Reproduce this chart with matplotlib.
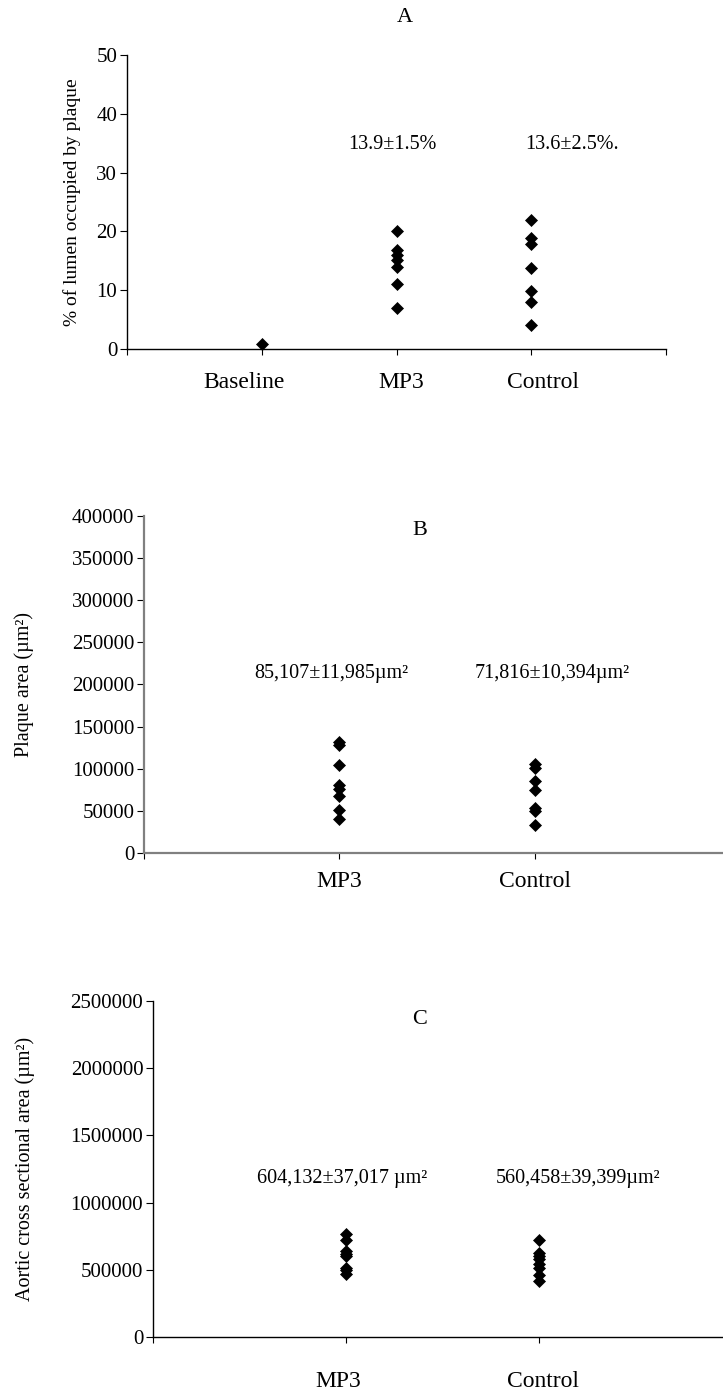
import matplotlib
matplotlib.use("Agg")
import matplotlib.pyplot as plt
from matplotlib.ticker import StrMethodFormatter
from matplotlib.transforms import ScaledTranslation
import numpy as np

plt.rcParams['font.family'] = ['Liberation Serif', 'DejaVu Serif']

# panel A: % of lumen occupied by plaque
cats_a = ['Baseline', 'MP3', 'Control']
baseline_pct = [0.9]
mp3_pct = [20.0, 16.8, 16.0, 15.2, 13.9, 11.0, 6.9]
control_pct = [22.0, 18.9, 17.9, 13.8, 9.9, 8.0, 4.0]
notes_a = ['13.9\u00b11.5%', '13.6\u00b12.5%.']

# panel B: plaque area
cats_b = ['MP3', 'Control']
mp3_plaque = [132000, 128000, 104000, 81000, 76000, 68000, 51000, 40000]
control_plaque = [106000, 101000, 86000, 75000, 54000, 50000, 33000]
notes_b = ['85,107\u00b111,985\u00b5m\u00b2', '71,816\u00b110,394\u00b5m\u00b2']

# panel C: aortic cross sectional area
cats_c = ['MP3', 'Control']
mp3_aortic = [770000, 720000, 640000, 620000, 600000, 510000, 500000, 470000]
control_aortic = [720000, 625000, 600000, 580000, 545000, 510000, 460000, 420000]
notes_c = ['604,132\u00b137,017 \u00b5m\u00b2', '560,458\u00b139,399\u00b5m\u00b2']

W, H = 723, 1396
fig = plt.figure(figsize=(W / 100, H / 100), dpi=100)


def make_axes(left, right, bottom, top):
    return fig.add_axes([left / W, 1 - bottom / H, (right - left) / W, (bottom - top) / H])


def style(ax, color='black', lw=1.0, xpad=10):
    ax.spines['top'].set_visible(False)
    ax.spines['right'].set_visible(False)
    for s in ('left', 'bottom'):
        ax.spines[s].set_color(color)
        ax.spines[s].set_linewidth(lw)
    ax.tick_params(axis='y', direction='out', length=5, width=0.8, labelsize=15, pad=2)
    ax.tick_params(axis='x', direction='out', length=4.3, width=0.8, labelsize=17, pad=xpad)
    ax.yaxis.set_major_formatter(StrMethodFormatter('{x:.0f}'))


def shift_labels(ax, shifts):
    # nudge the category labels sideways (pixels at 100 dpi)
    labels = [t for t in ax.get_xticklabels() if t.get_text()]
    for t, dx in zip(labels, shifts):
        t.set_transform(t.get_transform() + ScaledTranslation(dx / 100, 0, fig.dpi_scale_trans))


def dots(ax, x, vals):
    ax.plot(np.full(len(vals), x), vals, 'D', color='black', markersize=6,
            markeredgewidth=0.5, clip_on=False, zorder=3)


# ---- A ----
ax1 = make_axes(127, 666, 349, 55)
style(ax1, xpad=12)
ax1.set_xlim(0, 4)
ax1.set_ylim(0, 50)
ax1.set_yticks(range(0, 51, 10))
ax1.set_xticks(range(5), [''] + cats_a + [''])
shift_labels(ax1, [-18, 5, 12])
for i, vals in enumerate([baseline_pct, mp3_pct, control_pct]):
    dots(ax1, i + 1, vals)
ax1.text(1.97, 34.7, notes_a[0], ha='center', va='center', fontsize=14.5)
ax1.text(3.30, 34.7, notes_a[1], ha='center', va='center', fontsize=14.5)
ax1.text(2.06, 56.3, 'A', ha='center', va='center', fontsize=16, clip_on=False)
ax1.set_ylabel('% of lumen occupied by plaque', fontsize=14)
ax1.yaxis.set_label_coords(-0.085, 0.5)

# ---- B ----
ax2 = make_axes(144, 730, 853, 516)
style(ax2, color='#808080', lw=1.6, xpad=9)
ax2.set_xlim(0, 3)
ax2.set_ylim(0, 400000)
ax2.set_yticks(range(0, 400001, 50000))
ax2.set_xticks(range(4), [''] + cats_b + [''])
for i, vals in enumerate([mp3_plaque, control_plaque]):
    dots(ax2, i + 1, vals)
ax2.text(0.96, 213600, notes_b[0], ha='center', va='center', fontsize=14.5)
ax2.text(2.09, 213600, notes_b[1], ha='center', va='center', fontsize=14.5)
ax2.text(1.41, 383000, 'B', ha='center', va='center', fontsize=16)
ax2.set_ylabel('Plaque area (\u00b5m\u00b2)', fontsize=14.5)
ax2.yaxis.set_label_coords(-0.187, 0.5)

# ---- C ----
ax3 = make_axes(153, 732, 1337, 1001)
style(ax3, xpad=20)
ax3.set_xlim(0, 3)
ax3.set_ylim(0, 2500000)
ax3.set_yticks(range(0, 2500001, 500000))
ax3.set_xticks(range(4), [''] + cats_c + [''])
shift_labels(ax3, [-8, 4])
for i, vals in enumerate([mp3_aortic, control_aortic]):
    dots(ax3, i + 1, vals)
ax3.text(0.98, 1183000, notes_c[0], ha='center', va='center', fontsize=14.5)
ax3.text(2.20, 1183000, notes_c[1], ha='center', va='center', fontsize=14.5)
ax3.text(1.38, 2359000, 'C', ha='center', va='center', fontsize=16)
ax3.set_ylabel('Aortic cross sectional area (\u00b5m\u00b2)', fontsize=14.5)
ax3.yaxis.set_label_coords(-0.204, 0.5)

fig.savefig('out.png', dpi=100)
